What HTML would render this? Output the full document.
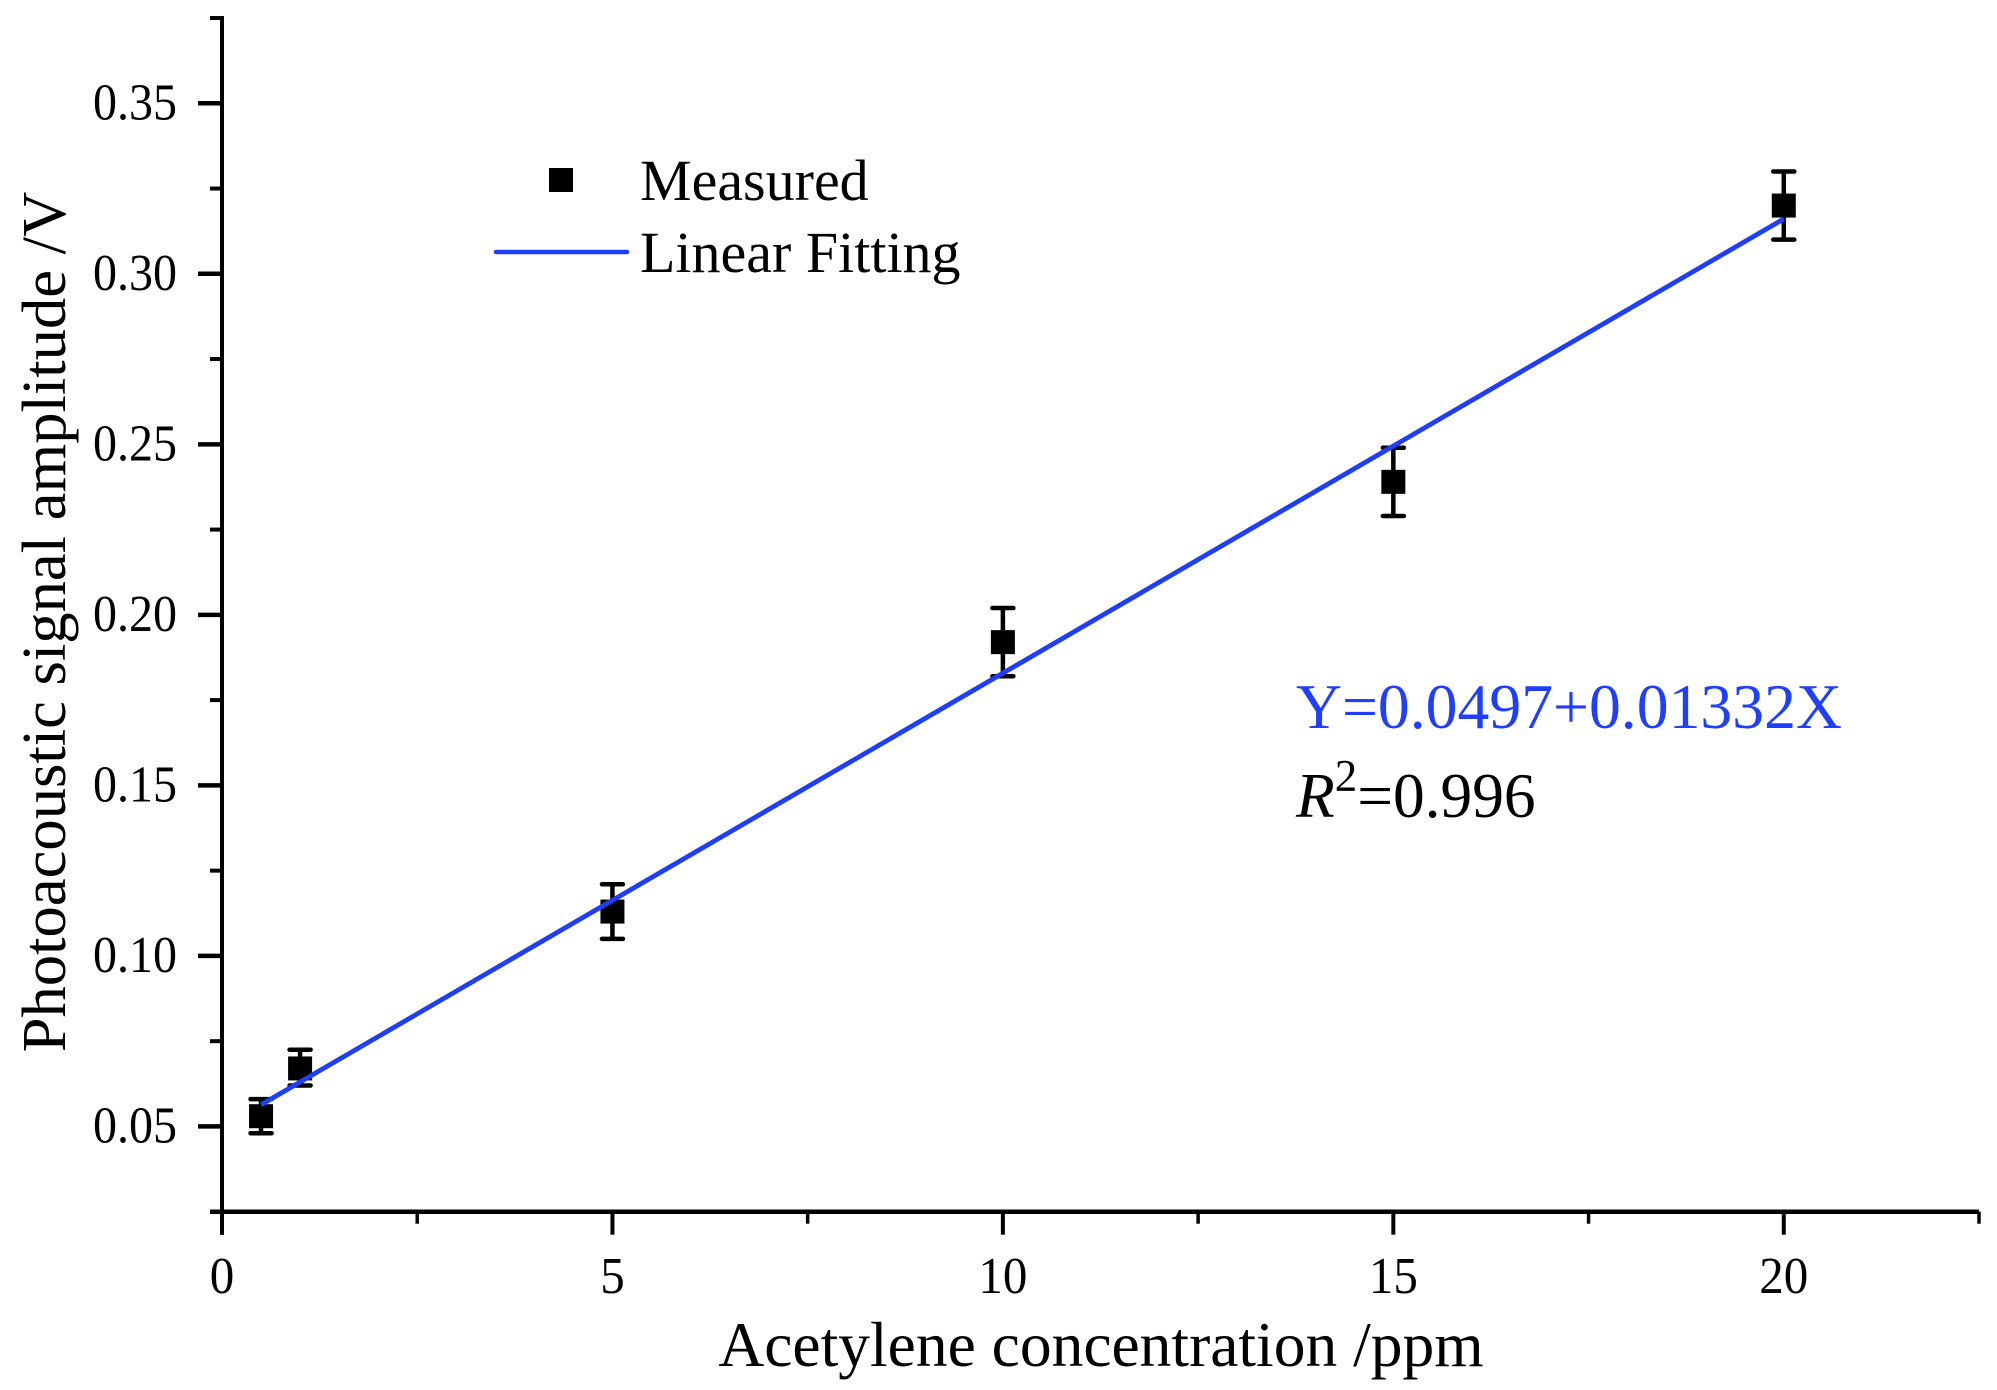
<!DOCTYPE html>
<html lang="en">
<head>
<meta charset="utf-8">
<title>Photoacoustic signal amplitude vs acetylene concentration</title>
<style>
html,body{margin:0;padding:0;background:#fff;}
svg{display:block;}
text{font-family:"Liberation Serif",serif;fill:#000;}
</style>
</head>
<body>
<svg id="chart" xmlns="http://www.w3.org/2000/svg" width="1997" height="1390" viewBox="0 0 1997 1390">
  <rect x="0" y="0" width="1997" height="1390" fill="#fff"/>
  <g id="series-layer"></g>
  <g id="axis-layer"></g>
  <text x="1101" y="1366" text-anchor="middle" font-size="63.5">Acetylene concentration /ppm</text>
  <text transform="translate(65,622) rotate(-90)" text-anchor="middle" font-size="62.6">Photoacoustic signal amplitude /V</text>
  <g>
    <rect x="549" y="168" width="24" height="24" fill="#000"/>
    <text x="640" y="200" font-size="58">Measured</text>
    <line x1="496" y1="252" x2="627" y2="252" stroke="#1f3ff5" stroke-width="4.5" stroke-linecap="round"/>
    <text x="640" y="272" font-size="58">Linear Fitting</text>
  </g>
  <text x="1296" y="728" font-size="63.7" style="fill:#1f3fff">Y=0.0497+0.01332X</text>
  <text x="1296" y="817" font-size="63.4"><tspan font-style="italic">R</tspan><tspan dy="-26" font-size="45">2</tspan><tspan dy="26">=0.996</tspan></text>
</svg>
<script>
const concentrations = [0.5, 1, 5, 10, 15, 20];
const amplitudes = [0.053, 0.067, 0.113, 0.192, 0.239, 0.32];
const errorLow = [0.048, 0.062, 0.105, 0.182, 0.229, 0.31];
const errorHigh = [0.058, 0.0725, 0.121, 0.202, 0.249, 0.33];
const fitIntercept = 0.0497;
const fitSlope = 0.01332;
const fitRange = [0.5, 20];
const xMajorTicks = [0, 5, 10, 15, 20];
const xMinorTicks = [2.5, 7.5, 12.5, 17.5, 22.5];
const yMajorTicks = [0.05, 0.1, 0.15, 0.2, 0.25, 0.3, 0.35];
const yMajorLabels = ['0.05', '0.10', '0.15', '0.20', '0.25', '0.30', '0.35'];
const yMinorTicks = [0.025, 0.075, 0.125, 0.175, 0.225, 0.275, 0.325, 0.375];
const xDomain = [0, 22.5];
const yDomain = [0.025, 0.375];

const plot = { left: 222, right: 1979, bottom: 1211.7, top: 18 };
const NS = 'http://www.w3.org/2000/svg';
function scaleX(v) {
  return plot.left + (v - xDomain[0]) / (xDomain[1] - xDomain[0]) * (plot.right - plot.left);
}
function scaleY(v) {
  return plot.bottom - (v - yDomain[0]) / (yDomain[1] - yDomain[0]) * (plot.bottom - plot.top);
}
function make(tag, attrs, parent) {
  const el = document.createElementNS(NS, tag);
  for (const k in attrs) el.setAttribute(k, attrs[k]);
  parent.appendChild(el);
  return el;
}
const axisLayer = document.getElementById('axis-layer');
const seriesLayer = document.getElementById('series-layer');

const yAxisLine = make('line', { x1: plot.left, x2: plot.left, y1: plot.top - 2, y2: plot.bottom + 23, stroke: '#000', 'stroke-width': 4 }, axisLayer);


const xAxisLine = make('line', { x1: plot.left - 12, x2: plot.right, y1: plot.bottom, y2: plot.bottom, stroke: '#000', 'stroke-width': 4.5 }, axisLayer);



xMajorTicks.forEach(function (v) {
  const tick = make('line', { x1: scaleX(v), x2: scaleX(v), y1: plot.bottom, y2: plot.bottom + 23, stroke: '#000', 'stroke-width': 4 }, axisLayer);
  
  
  const text = String(v);
  const label = make('text', { x: scaleX(v), y: 1293, 'text-anchor': 'middle', 'font-size': 52, textLength: text.length * 24.5, lengthAdjust: 'spacingAndGlyphs' }, axisLayer);
  label.textContent = text;
  
  
});
xMinorTicks.forEach(function (v) {
  const tick = make('line', { x1: scaleX(v), x2: scaleX(v), y1: plot.bottom, y2: plot.bottom + 12, stroke: '#000', 'stroke-width': 3.5 }, axisLayer);
  
  
});
yMajorTicks.forEach(function (v, i) {
  const tick = make('line', { x1: plot.left - 24, x2: plot.left, y1: scaleY(v), y2: scaleY(v), stroke: '#000', 'stroke-width': 4.5 }, axisLayer);
  
  
  const label = make('text', { x: 177, y: scaleY(v) + 16, 'text-anchor': 'end', 'font-size': 52, textLength: 84, lengthAdjust: 'spacingAndGlyphs' }, axisLayer);
  label.textContent = yMajorLabels[i];
  
  
});
yMinorTicks.forEach(function (v) {
  const tick = make('line', { x1: plot.left - 12, x2: plot.left, y1: scaleY(v), y2: scaleY(v), stroke: '#000', 'stroke-width': 4 }, axisLayer);
  
  
});

concentrations.forEach(function (x, i) {
  const cx = scaleX(x);
  const stem = make('line', { x1: cx, x2: cx, y1: scaleY(errorLow[i]), y2: scaleY(errorHigh[i]), stroke: '#000', 'stroke-width': 4.5 }, seriesLayer);
  
  
  [errorLow[i], errorHigh[i]].forEach(function (e) {
    const cap = make('line', { x1: cx - 10.5, x2: cx + 10.5, y1: scaleY(e), y2: scaleY(e), stroke: '#000', 'stroke-width': 4.5, 'stroke-linecap': 'round' }, seriesLayer);
    
    
  });
  const point = make('rect', { x: cx - 12, y: scaleY(amplitudes[i]) - 12, width: 24, height: 24, fill: '#000' }, seriesLayer);
  
  
});

const fitLine = make('line', {
  x1: scaleX(fitRange[0]), y1: scaleY(fitIntercept + fitSlope * fitRange[0]),
  x2: scaleX(fitRange[1]), y2: scaleY(fitIntercept + fitSlope * fitRange[1]),
  stroke: '#1f3ff5', 'stroke-width': 4.8
}, seriesLayer);


</script>
</body>
</html>
